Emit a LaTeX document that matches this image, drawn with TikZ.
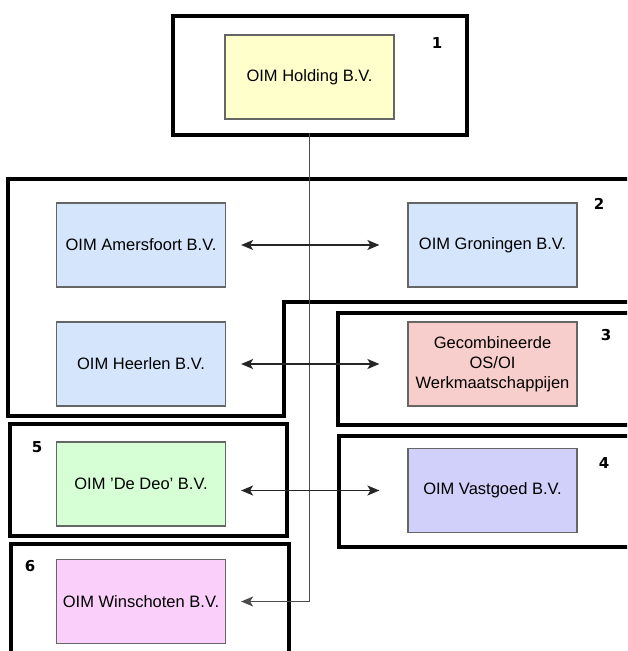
\documentclass[tikz,border=0pt]{standalone}
\usepackage{fontspec}
\setmainfont{Liberation Sans}
\newfontfamily\numfont{DejaVu Sans}
\usetikzlibrary{arrows,arrows.meta,shapes,positioning}

\definecolor{holdingyellow}{RGB}{255,255,204}
\definecolor{zuidblue}{RGB}{212,229,252}
\definecolor{osred}{RGB}{248,206,204}
\definecolor{deogreen}{RGB}{214,255,214}
\definecolor{vastlilac}{RGB}{208,208,250}
\definecolor{winspink}{RGB}{250,208,250}

\tikzset{
company/.style={draw=black!60, line width=1.2pt, minimum width=169pt, minimum height=84pt, inner sep=0pt, align=center, font=\fontsize{16.5}{20}\selectfont},
frame/.style={draw=black, line width=3.5pt},
tag/.style={font=\numfont\bfseries\fontsize{15}{17}\selectfont},
>={Stealth[length=12pt,width=10pt,inset=3pt]},
link/.style={<->, draw=black!85, line width=1.5pt, shorten <=15pt, shorten >=28pt},
trunk/.style={->, draw=black!70, line width=1.4pt, shorten >=15pt}
}

\begin{document}
\begin{tikzpicture}[x=1pt,y=-1pt]

\useasboundingbox (0,0) rectangle (627,651);
\clip (0,0) rectangle (627,651);

\draw[frame] (173,16) rectangle (467,135);
\draw[frame] (8,179) -- (640,179) -- (640,302) -- (284,302) -- (284,416) -- (8,416) -- cycle;
\draw[frame] (338,313) rectangle (640,425);
\draw[frame] (339,436) rectangle (640,547);
\draw[frame] (10,424) rectangle (287,536);
\draw[frame] (11,544) rectangle (289,670);

\node[tag] (tagone) at (437,43) {1};
\node[tag] (tagtwo) at (599,204) {2};
\node[tag] (tagthree) at (606,335) {3};
\node[tag] (tagfour) at (604,463) {4};
\node[tag] (tagfive) at (37,447) {5};
\node[tag] (tagsix) at (30,566) {6};

\node[company, fill=holdingyellow] (holding) at (309.5,77) {OIM Holding B.V.};
\node[company, fill=zuidblue] (amersfoort) at (141,245) {OIM Amersfoort B.V.};
\node[company, fill=zuidblue] (groningen) at (492.5,245) {OIM Groningen B.V.};
\node[company, fill=zuidblue] (heerlen) at (141,364) {OIM Heerlen B.V.};
\node[company, fill=osred] (osoi) at (492.5,364) {Gecombineerde\\OS/OI\\Werkmaatschappijen};
\node[company, fill=deogreen] (dedeo) at (141,484) {OIM 'De Deo' B.V.};
\node[company, fill=vastlilac] (vastgoed) at (492.5,490.5) {OIM Vastgoed B.V.};
\node[company, fill=winspink] (winschoten) at (141,601.5) {OIM Winschoten B.V.};

\coordinate (onebase) at (310,133);

\draw[trunk] (holding |- onebase) |- (winschoten);

\draw[link] (amersfoort) -- (groningen);
\draw[link] (heerlen) -- (osoi);
\draw[link] (dedeo.east |- vastgoed.west) -- (vastgoed.west);

\end{tikzpicture}
\end{document}
